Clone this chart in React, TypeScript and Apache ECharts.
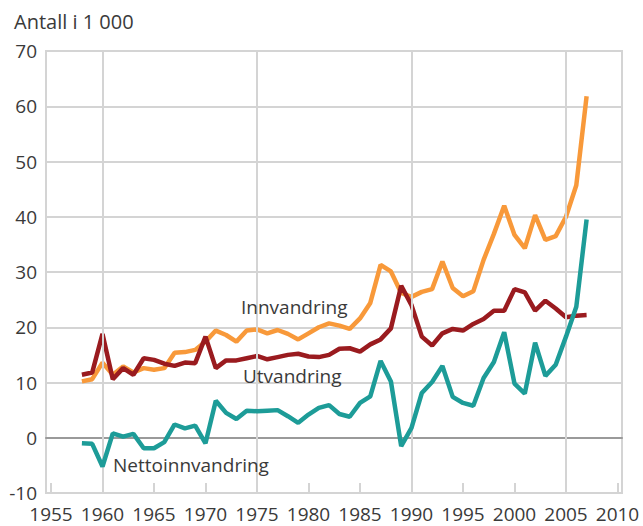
import React, { useEffect, useRef } from "react";
import * as echarts from "echarts";

const years: number[] = [
  1958, 1959, 1960, 1961, 1962, 1963, 1964, 1965, 1966, 1967,
  1968, 1969, 1970, 1971, 1972, 1973, 1974, 1975, 1976, 1977,
  1978, 1979, 1980, 1981, 1982, 1983, 1984, 1985, 1986, 1987,
  1988, 1989, 1990, 1991, 1992, 1993, 1994, 1995, 1996, 1997,
  1998, 1999, 2000, 2001, 2002, 2003, 2004, 2005, 2006, 2007,
];

const innvandring: number[] = [
  10.2, 10.6, 13.6, 11.4, 12.9, 11.8, 12.6, 12.3, 12.6, 15.4,
  15.5, 15.9, 17.4, 19.4, 18.6, 17.4, 19.4, 19.6, 18.9, 19.5,
  18.8, 17.8, 18.9, 20.0, 20.7, 20.3, 19.7, 21.6, 24.4, 31.3,
  30.1, 26.2, 25.5, 26.4, 26.9, 31.9, 27.1, 25.6, 26.5, 32.2,
  36.9, 42.0, 36.7, 34.3, 40.3, 35.8, 36.5, 40.0, 45.7, 61.8,
];

const utvandring: number[] = [
  11.4, 11.8, 18.8, 10.6, 12.6, 11.4, 14.4, 14.1, 13.4, 13.0,
  13.6, 13.5, 18.3, 12.6, 14.0, 14.0, 14.4, 14.8, 14.2, 14.6,
  15.0, 15.2, 14.7, 14.6, 15.0, 16.1, 16.2, 15.6, 16.9, 17.8,
  19.8, 27.5, 24.0, 18.3, 16.7, 18.9, 19.7, 19.4, 20.6, 21.5,
  23.0, 23.0, 26.9, 26.3, 23.0, 24.8, 23.4, 21.8, 22.1, 22.2,
];

const nettoinnvandring: number[] = [
  -1.0, -1.1, -5.2, 0.8, 0.2, 0.7, -1.9, -1.9, -0.8, 2.4,
  1.7, 2.2, -1.0, 6.7, 4.5, 3.4, 4.9, 4.8, 4.9, 5.0,
  3.9, 2.7, 4.2, 5.4, 5.9, 4.3, 3.8, 6.3, 7.5, 13.9,
  10.2, -1.5, 1.8, 8.1, 10.1, 13.0, 7.4, 6.3, 5.8, 10.8,
  13.7, 19.1, 9.8, 8.0, 17.2, 11.2, 13.2, 18.3, 23.7, 39.5,
];

const majorGridYears: number[] = [1960, 1975, 1990, 2005];

const yTitle = "Antall i 1 000";
const seriesNames = ["Innvandring", "Utvandring", "Nettoinnvandring"];

const FONT = "'Open Sans', 'Noto Sans', sans-serif";
const GRID_COLOR = "#d4d4d4";
const TEXT_COLOR = "#3a3a3a";

export default function App() {
  const ref = useRef<HTMLDivElement>(null);

  useEffect(() => {
    if (!ref.current) return;
    const chart = echarts.init(ref.current, undefined, { renderer: "svg" });
    const pair = (vals: number[]) => years.map((y, i) => [y, vals[i]]);

    chart.setOption({
      animation: false,
      backgroundColor: "#ffffff",
      textStyle: { fontFamily: FONT },
      title: {
        text: yTitle,
        left: 9,
        top: 6,
        textStyle: { fontSize: 20, fontWeight: "normal", color: TEXT_COLOR, fontFamily: FONT },
      },
      grid: [
        { left: 46, right: 21, top: 51, bottom: 33, show: true, borderColor: GRID_COLOR, borderWidth: 2 },
        { left: 51, right: 25.5, top: 51, bottom: 33 },
      ],
      xAxis: [
        {
          gridIndex: 0,
          type: "value",
          min: 0,
          max: 1,
          axisLine: { show: true, onZero: true, lineStyle: { color: "#9a9a9a", width: 2 } },
          axisTick: { show: false },
          axisLabel: { show: false },
          splitLine: { show: false },
        },
        {
          gridIndex: 1,
          type: "value",
          min: 1955,
          max: 2010,
          interval: 5,
          axisLine: { show: false, onZero: false },
          axisTick: { show: true, inside: true, length: 10, lineStyle: { color: GRID_COLOR, width: 2 } },
          axisLabel: {
            fontSize: 19,
            color: TEXT_COLOR,
            margin: 11,
            fontFamily: FONT,
            formatter: (v: number) => String(v),
          },
          splitLine: { show: false },
        },
      ],
      yAxis: [
        {
          gridIndex: 0,
          type: "value",
          min: -10,
          max: 70,
          interval: 10,
          axisLine: { show: false },
          axisTick: { show: false },
          axisLabel: { fontSize: 19, color: TEXT_COLOR, margin: 9, fontFamily: FONT },
          splitLine: { show: true, lineStyle: { color: GRID_COLOR, width: 2 } },
        },
        {
          gridIndex: 1,
          type: "value",
          min: -10,
          max: 70,
          interval: 10,
          show: false,
        },
      ],
      series: [
        {
          type: "line",
          xAxisIndex: 1,
          yAxisIndex: 1,
          data: [],
          z: 1,
          silent: true,
          markLine: {
            silent: true,
            symbol: "none",
            label: { show: false },
            lineStyle: { color: GRID_COLOR, width: 2, type: "solid" },
            data: majorGridYears.map((y) => ({ xAxis: y })),
          },
        },
        {
          name: seriesNames[0],
          type: "line",
          xAxisIndex: 1,
          yAxisIndex: 1,
          data: pair(innvandring),
          showSymbol: false,
          symbol: "none",
          z: 3,
          lineStyle: { color: "#F8993A", width: 4.5 },
          itemStyle: { color: "#F8993A" },
        },
        {
          name: seriesNames[1],
          type: "line",
          xAxisIndex: 1,
          yAxisIndex: 1,
          data: pair(utvandring),
          showSymbol: false,
          symbol: "none",
          z: 4,
          lineStyle: { color: "#9A1B1F", width: 4.5 },
          itemStyle: { color: "#9A1B1F" },
        },
        {
          name: seriesNames[2],
          type: "line",
          xAxisIndex: 1,
          yAxisIndex: 1,
          data: pair(nettoinnvandring),
          showSymbol: false,
          symbol: "none",
          z: 5,
          lineStyle: { color: "#1D9C98", width: 4.5 },
          itemStyle: { color: "#1D9C98" },
        },
      ],
      graphic: [
        {
          type: "text",
          left: 241,
          top: 297,
          z: 10,
          style: { text: seriesNames[0], fontSize: 19, fill: TEXT_COLOR, fontFamily: FONT },
        },
        {
          type: "text",
          left: 243,
          top: 366,
          z: 10,
          style: { text: seriesNames[1], fontSize: 19, fill: TEXT_COLOR, fontFamily: FONT },
        },
        {
          type: "text",
          left: 113,
          top: 455,
          z: 10,
          style: { text: seriesNames[2], fontSize: 19, fill: TEXT_COLOR, fontFamily: FONT },
        },
      ],
    });

    return () => chart.dispose();
  }, []);

  return (
    <div
      ref={ref}
      style={{ position: "fixed", left: 0, top: 0, width: 643, height: 526 }}
    />
  );
}
